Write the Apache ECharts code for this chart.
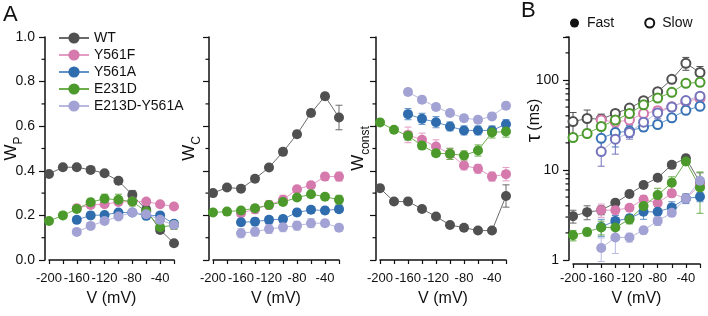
<!DOCTYPE html>
<html>
<head>
<meta charset="utf-8">
<script src="https://cdn.jsdelivr.net/npm/echarts@6/dist/echarts.min.js"></script>
<style>
  html, body { margin: 0; padding: 0; background: #fff; }
  #chart { width: 708px; height: 316px; }
</style>
</head>
<body>
<div id="chart"></div>
<script>
// voltage steps (mV); mutants start at -160
const voltages = [-200, -180, -160, -140, -120, -100, -80, -60, -40, -20];
const names = ['WT', 'Y561F', 'Y561A', 'E231D', 'E213D-Y561A'];

// W_P
const wpWT = [0.386, 0.416, 0.416, 0.404, 0.389, 0.355, 0.292, 0.225, 0.135, 0.075];
const wpY561F = [null, null, 0.232, 0.247, 0.25, 0.26, 0.262, 0.262, 0.25, 0.24];
const wpY561A = [null, null, 0.18, 0.2, 0.202, 0.213, 0.213, 0.198, 0.2, 0.162];
const wpE231D = [0.175, 0.2, 0.229, 0.259, 0.275, 0.27, 0.262, 0.217, 0.147, 0.157];
const wpDbl = [null, null, 0.126, 0.153, 0.175, 0.195, 0.213, 0.205, 0.18, 0.157];
const wpErrWT = [0.01, 0.01, 0.01, 0.01, 0.01, 0.015, 0.02, 0.02, 0.015, 0.012];
const wpErrY561F = [0, 0, 0.015, 0.01, 0.01, 0.01, 0.01, 0.01, 0.01, 0.01];
const wpErrY561A = [0, 0, 0.012, 0.015, 0.01, 0.012, 0.01, 0.012, 0.01, 0.015];
const wpErrE231D = [0.01, 0.01, 0.012, 0.015, 0.02, 0.025, 0.02, 0.02, 0.02, 0.02];
const wpErrDbl = [0, 0, 0.01, 0.01, 0.01, 0.01, 0.01, 0.01, 0.01, 0.01];

// W_C
const wcWT = [0.3, 0.325, 0.32, 0.364, 0.415, 0.485, 0.564, 0.659, 0.734, 0.639];
const wcY561F = [null, null, 0.21, 0.228, 0.247, 0.27, 0.317, 0.335, 0.374, 0.374];
const wcY561A = [null, null, 0.169, 0.172, 0.18, 0.184, 0.213, 0.225, 0.222, 0.228];
const wcE231D = [0.213, 0.217, 0.222, 0.232, 0.247, 0.26, 0.28, 0.295, 0.284, 0.27];
const wcDbl = [null, null, 0.12, 0.127, 0.139, 0.147, 0.154, 0.165, 0.165, 0.145];
const wcErrWT = [0.01, 0.01, 0.01, 0.012, 0.012, 0.015, 0.015, 0.015, 0.015, 0.055];
const wcErrY561F = [0, 0, 0.015, 0.02, 0.02, 0.02, 0.015, 0.015, 0.015, 0.02];
const wcErrY561A = [0, 0, 0.015, 0.015, 0.015, 0.015, 0.015, 0.015, 0.015, 0.015];
const wcErrE231D = [0.01, 0.01, 0.01, 0.01, 0.012, 0.012, 0.012, 0.012, 0.012, 0.02];
const wcErrDbl = [0, 0, 0.02, 0.02, 0.02, 0.02, 0.02, 0.02, 0.015, 0.015];

// W_const
const wkWT = [0.322, 0.262, 0.262, 0.229, 0.195, 0.157, 0.145, 0.132, 0.132, 0.287];
const wkY561F = [null, null, 0.561, 0.539, 0.509, 0.476, 0.424, 0.409, 0.374, 0.385];
const wkY561A = [null, null, 0.654, 0.633, 0.618, 0.599, 0.581, 0.581, 0.581, 0.609];
const wkE231D = [0.617, 0.584, 0.557, 0.513, 0.479, 0.476, 0.469, 0.491, 0.572, 0.576];
const wkDbl = [null, null, 0.753, 0.719, 0.686, 0.659, 0.636, 0.629, 0.644, 0.692];
const wkErrWT = [0.015, 0.012, 0.015, 0.012, 0.01, 0.01, 0.01, 0.01, 0.01, 0.05];
const wkErrY561F = [0, 0, 0.035, 0.03, 0.03, 0.025, 0.02, 0.02, 0.02, 0.03];
const wkErrY561A = [0, 0, 0.025, 0.025, 0.025, 0.02, 0.02, 0.02, 0.02, 0.02];
const wkErrE231D = [0.01, 0.01, 0.02, 0.015, 0.015, 0.025, 0.02, 0.025, 0.025, 0.025];
const wkErrDbl = [0, 0, 0.015, 0.015, 0.015, 0.015, 0.015, 0.015, 0.015, 0.015];

// tau fast (ms)
const tfWT = [3.07, 3.4, 3.58, 4.32, 5.4, 6.8, 8.2, 11.4, 13.5, 7.3];
const tfY561F = [null, null, 3.58, 3.58, 3.8, 4.7, 4.3, 5.5, 4.83, 6.8];
const tfY561A = [null, null, 2.33, 2.72, 2.9, 3.43, 3.43, 3.84, 4.83, 5.04];
const tfE231D = [1.88, 2.05, 2.3, 2.3, 2.82, 3.97, 5.26, 7.2, 12.4, 6.4];
const tfDbl = [null, null, 1.36, 1.78, 1.78, 2.14, 2.72, 3.34, 4.83, 7.6];
const tfErrWT = [0.5, 0.6, 0.4, 0.4, 0.4, 0.5, 0.6, 1.0, 1.2, 2.0];
const tfErrY561F = [0, 0, 0.6, 0.4, 0.3, 0.5, 0.5, 0.5, 0.5, 0.8];
const tfErrY561A = [0, 0, 0.5, 0.4, 0.3, 0.6, 0.5, 0.6, 0.6, 0.6];
const tfErrE231D = [0.25, 0.2, 0.4, 0.4, 0.3, 0.6, 1.0, 1.2, 1.0, 3.1];
const tfErrDbl = [0, 0, 0.4, 0.6, 0.2, 0.2, 0.3, 0.2, 0.3, 0.6];

// tau slow (ms)
const tsWT = [34.5, 37.3, 36.7, 42.4, 48.7, 58.8, 74, 101.5, 153, 121];
const tsY561F = [null, null, 36, 34, 36, 42.4, 45.5, 50.3, 57.7, 62.4];
const tsY561A = [null, null, 22.5, 26, 27, 30, 32, 38, 46, 51];
const tsE231D = [22.9, 25.4, 30.4, 35.8, 42.4, 53, 63, 72.8, 91.7, 94];
const tsDbl = [null, null, 16, 22, 26, 34, 43, 50, 59, 66];
const tsErrWT = [9, 9, 5, 4, 4, 5, 6, 8, 25, 20];
const tsErrY561F = [0, 0, 4, 4, 4, 5, 5, 5, 6, 6];
const tsErrY561A = [0, 0, 5, 8, 4, 3, 3, 3, 4, 4];
const tsErrE231D = [2, 2, 3, 3, 3, 4, 4, 4, 5, 8];
const tsErrDbl = [0, 0, 5, 7, 4, 4, 6, 5, 5, 6];

// minor tick values
const linMinorTicks = [0.1, 0.3, 0.5, 0.7, 0.9];
const logMinorTicks = [2, 3, 4, 5, 6, 7, 8, 9, 20, 30, 40, 50, 60, 70, 80, 90, 200, 300];

const markerColors = ['#505050', '#d67aae', '#2f6cae', '#4b9a2b', '#a2a2d4'];
const lineColors = ['#6a6a6a', '#e39cc4', '#5f90c8', '#6cae4c', '#b9b9df'];
const openColors = ['#505050', '#d67aae', '#3a72b6', '#4b9a2b', '#7474bc'];

const font = 'Liberation Sans';

const panels = [
  { values: [wpWT, wpY561F, wpY561A, wpE231D, wpDbl], errs: [wpErrWT, wpErrY561F, wpErrY561A, wpErrE231D, wpErrDbl] },
  { values: [wcWT, wcY561F, wcY561A, wcE231D, wcDbl], errs: [wcErrWT, wcErrY561F, wcErrY561A, wcErrE231D, wcErrDbl] },
  { values: [wkWT, wkY561F, wkY561A, wkE231D, wkDbl], errs: [wkErrWT, wkErrY561F, wkErrY561A, wkErrE231D, wkErrDbl] },
];
const fastSet = { values: [tfWT, tfY561F, tfY561A, tfE231D, tfDbl], errs: [tfErrWT, tfErrY561F, tfErrY561A, tfErrE231D, tfErrDbl] };
const slowSet = { values: [tsWT, tsY561F, tsY561A, tsE231D, tsDbl], errs: [tsErrWT, tsErrY561F, tsErrY561A, tsErrE231D, tsErrDbl] };

const pairs = (vals) => voltages.map((v, i) => [v, vals[i]]).filter((p) => p[1] != null);

function errorBars(axis, vals, errs, color) {
  return {
    type: 'custom',
    xAxisIndex: axis,
    yAxisIndex: axis,
    silent: true,
    z: 1,
    data: voltages.map((v, i) => [v, vals[i], errs[i]]).filter((p) => p[1] != null && p[2] > 0)
      .map((p) => [p[0], p[1] - p[2], p[1] + p[2]]),
    renderItem(params, api) {
      const lo = api.coord([api.value(0), api.value(1)]);
      const hi = api.coord([api.value(0), api.value(2)]);
      const w = 3.5;
      const style = { stroke: color, lineWidth: 1 };
      return {
        type: 'group',
        children: [
          { type: 'line', shape: { x1: lo[0], y1: lo[1], x2: hi[0], y2: hi[1] }, style },
          { type: 'line', shape: { x1: lo[0] - w, y1: lo[1], x2: lo[0] + w, y2: lo[1] }, style },
          { type: 'line', shape: { x1: hi[0] - w, y1: hi[1], x2: hi[0] + w, y2: hi[1] }, style },
        ],
      };
    },
  };
}

// short ticks drawn just outside the (offset) y axis line
function minorTicks(axis, values) {
  return {
    type: 'custom',
    xAxisIndex: axis,
    yAxisIndex: axis,
    silent: true,
    clip: false,
    data: values.map((v) => [-200, v]),
    renderItem(params, api) {
      const p = api.coord([api.value(0), api.value(1)]);
      const x = p[0] - 4;
      return { type: 'line', shape: { x1: x, y1: p[1], x2: x - 3.5, y2: p[1] }, style: { stroke: '#111', lineWidth: 1.2 } };
    },
  };
}

function lineSeries(axis, name, vals, i, open) {
  return {
    type: 'line',
    name,
    xAxisIndex: axis,
    yAxisIndex: axis,
    data: pairs(vals),
    symbol: open ? 'emptyCircle' : 'circle',
    symbolSize: open ? 9 : 10,
    showSymbol: true,
    z: 3,
    lineStyle: { color: lineColors[i], width: 1 },
    itemStyle: open
      ? { color: openColors[i], borderColor: openColors[i], borderWidth: 1.5 }
      : { color: markerColors[i] },
    emphasis: { disabled: true },
    animation: false,
  };
}

const series = [];
panels.forEach((p, axis) => {
  names.forEach((n, i) => {
    series.push(errorBars(axis, p.values[i], p.errs[i], lineColors[i]));
    series.push(lineSeries(axis, n, p.values[i], i, false));
  });
  series.push(minorTicks(axis, linMinorTicks));
});
names.forEach((n, i) => {
  series.push(errorBars(3, slowSet.values[i], slowSet.errs[i], openColors[i]));
  series.push(lineSeries(3, n + ' slow', slowSet.values[i], i, true));
});
names.forEach((n, i) => {
  series.push(errorBars(3, fastSet.values[i], fastSet.errs[i], lineColors[i]));
  series.push(lineSeries(3, n + ' fast', fastSet.values[i], i, false));
});
series.push(minorTicks(3, logMinorTicks));
// legend placeholders for panel B
series.push({ type: 'line', name: 'Fast', xAxisIndex: 3, yAxisIndex: 3, data: [], symbol: 'circle', itemStyle: { color: '#111' } });
series.push({
  type: 'line', name: 'Slow', xAxisIndex: 3, yAxisIndex: 3, data: [], symbol: 'emptyCircle',
  itemStyle: { color: '#111', borderColor: '#111', borderWidth: 2 },
});

const grids = [
  { left: 49, top: 37, width: 125, height: 223, outerBoundsMode: 'none', containLabel: false },
  { left: 213, top: 37, width: 126, height: 223, outerBoundsMode: 'none', containLabel: false },
  { left: 380, top: 37, width: 126, height: 223, outerBoundsMode: 'none', containLabel: false },
  { left: 573, top: 37, width: 127, height: 223, outerBoundsMode: 'none', containLabel: false },
];

const axisLine = { show: true, lineStyle: { color: '#111', width: 1.5 } };

const xAxes = grids.map((g, i) => ({
  gridIndex: i,
  type: 'value',
  min: -200,
  max: -20,
  interval: 20,
  offset: 4,
  axisLine,
  axisTick: { show: true, length: 4, lineStyle: { color: '#111', width: 1.2 } },
  splitLine: { show: false },
  axisLabel: {
    margin: 8,
    fontSize: 13,
    fontFamily: font,
    color: '#111',
    formatter: (v) => ((v + 200) % 40 === 0 ? String(v) : ''),
  },
  name: 'V (mV)',
  nameLocation: 'middle',
  nameGap: 27,
  nameMoveOverlap: false,
  nameTextStyle: { fontSize: 16, fontFamily: font, color: '#111' },
}));

const subRich = {
  w: { fontSize: 17, fontFamily: font, color: '#111', padding: [0, 0, 5, 0], verticalAlign: 'top' },
  s: { fontSize: 12, fontFamily: font, color: '#111', verticalAlign: 'bottom' },
};

const yNames = ['{w|W}{s|P}', '{w|W}{s|C}', '{w|W}{s|const}'];
const yGaps = [20, 6, 4];

const yAxes = [0, 1, 2].map((i) => ({
  gridIndex: i,
  type: 'value',
  min: 0,
  max: 1,
  interval: 0.2,
  offset: 4,
  axisLine,
  axisTick: { show: true, length: 6, lineStyle: { color: '#111', width: 1.2 } },
  splitLine: { show: false },
  axisLabel: {
    show: i === 0,
    margin: 10,
    fontSize: 14,
    fontFamily: font,
    color: '#111',
    formatter: (v) => v.toFixed(1),
  },
  name: yNames[i],
  nameLocation: 'middle',
  nameGap: yGaps[i],
  nameMoveOverlap: false,
  nameTextStyle: { rich: subRich },
}));

yAxes.push({
  gridIndex: 3,
  type: 'log',
  logBase: 10,
  min: 1,
  max: 300,
  offset: 4,
  axisLine,
  axisTick: { show: true, length: 6, lineStyle: { color: '#111', width: 1.2 } },
  splitLine: { show: false },
  axisLabel: {
    margin: 10,
    fontSize: 14,
    fontFamily: font,
    color: '#111',
    formatter: (v) => ([1, 10, 100].includes(Math.round(v)) ? String(Math.round(v)) : ''),
  },
  name: '{t|τ} {m|(ms)}',
  nameLocation: 'middle',
  nameGap: 24,
  nameMoveOverlap: false,
  nameTextStyle: {
    padding: [0, 0, 0, 56],
    rich: {
      t: { fontSize: 21, fontFamily: font, color: '#111' },
      m: { fontSize: 16, fontFamily: font, color: '#111' },
    },
  },
});

const chart = echarts.init(document.getElementById('chart'), null, { renderer: 'canvas' });
chart.setOption({
  animation: false,
  backgroundColor: '#fff',
  textStyle: { fontFamily: font },
  title: [
    { text: 'A', left: 3, top: 4, padding: 0, textStyle: { fontSize: 22, fontWeight: 'normal', fontFamily: font, color: '#111' } },
    { text: 'B', left: 521, top: 0, padding: 0, textStyle: { fontSize: 22, fontWeight: 'normal', fontFamily: font, color: '#111' } },
  ],
  legend: [
    {
      data: names,
      orient: 'vertical',
      left: 53,
      top: 26,
      itemWidth: 30,
      itemHeight: 14,
      itemGap: 3,
      selectedMode: false,
      textStyle: { fontSize: 14, fontFamily: font, color: '#111' },
    },
    {
      data: [
        { name: 'Fast', icon: 'circle' },
        { name: 'Slow', icon: 'emptyCircle' },
      ],
      orient: 'horizontal',
      left: 565,
      top: 11,
      itemWidth: 9,
      itemHeight: 9,
      itemGap: 30,
      selectedMode: false,
      textStyle: { fontSize: 14, fontFamily: font, color: '#111', padding: [0, 0, 0, 3] },
    },
  ],
  grid: grids,
  xAxis: xAxes,
  yAxis: yAxes,
  series,
});
</script>
</body>
</html>
